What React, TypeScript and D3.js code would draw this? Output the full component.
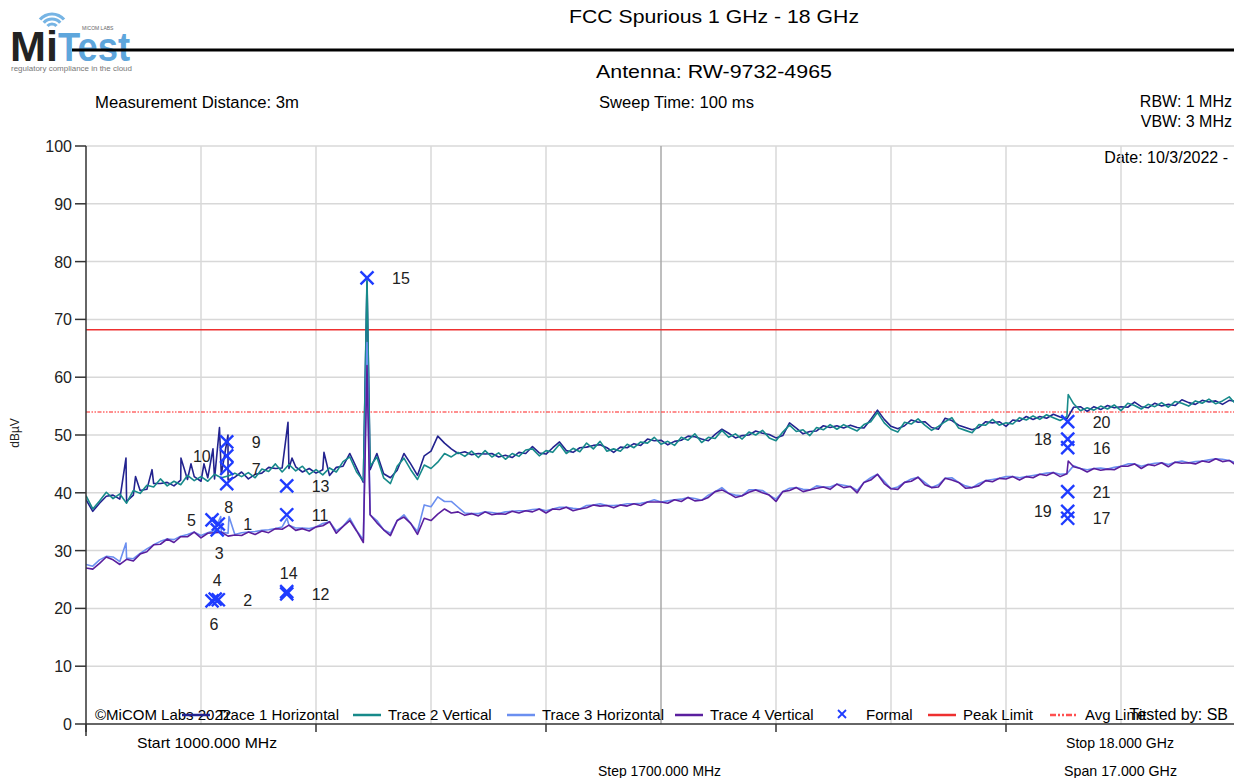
import React from "react";
import * as d3 from "d3";

// ---------- Sweep settings ----------
const START_MHZ = 1000;
const STOP_MHZ = 18000;
const SAMPLE_STEP_MHZ = 100;
const Y_TICKS = [0, 10, 20, 30, 40, 50, 60, 70, 80, 90, 100];
const X_GRID_MHZ = [1000, 2700, 4400, 6100, 7800, 9500, 11200, 12900, 14600, 16300, 18000];
const X_TICK_MHZ = [1000, 4400, 7800, 11200, 14600, 18000];

const PEAK_LIMIT = 68.2;
const AVG_LIMIT = 54.0;

// ---------- Trace values (dBµV), one every 100 MHz from 1000 MHz ----------
const trace1 = [
  38.8, 36.8, 38.2, 39.4, 39.6, 38.9, 38.5, 39.6, 40.4, 40.6,
  41.6, 41.6, 41.8, 41.2, 42.2, 42.3, 42.8, 42.0, 42.6, 42.4,
  43.2, 42.2, 42.7, 43.6, 42.4, 43.2, 43.4, 44.4, 44.2, 44.3,
  44.2, 44.5, 43.6, 44.2, 43.4, 44.0, 43.0, 44.4, 44.6, 46.8,
  44.3, 41.8, 44.0, 46.8, 43.3, 42.6, 43.9, 46.8, 45.0, 43.0,
  46.4, 47.2, 49.8, 48.6, 47.6, 46.8, 47.1, 46.6, 46.8, 46.7,
  46.8, 46.2, 46.5, 46.1, 47.0, 46.8, 48.0, 46.9, 46.7, 47.8,
  48.8, 47.3, 47.0, 47.8, 47.9, 48.2, 48.3, 47.8, 47.0, 47.9,
  47.8, 48.5, 48.2, 49.3, 49.0, 49.1, 48.3, 48.9, 49.1, 49.8,
  49.7, 49.3, 49.0, 50.1, 51.0, 50.3, 49.5, 49.9, 50.0, 50.7,
  50.3, 50.1, 49.5, 49.9, 52.1, 51.2, 50.2, 50.6, 50.7, 51.6,
  51.3, 51.6, 51.2, 51.7, 51.3, 51.2, 52.7, 54.3, 52.7, 51.5,
  51.1, 51.6, 52.6, 52.2, 52.3, 51.3, 51.0, 52.9, 52.5, 51.7,
  51.3, 50.9, 51.3, 52.3, 52.1, 52.3, 51.5, 52.6, 52.4, 53.2,
  52.7, 53.2, 52.9, 53.6, 53.1, 52.8, 54.8, 54.9, 54.1, 54.9,
  54.4, 55.1, 54.7, 54.9, 54.8, 55.7, 54.9, 54.7, 55.5, 55.0,
  55.3, 55.1, 56.1, 55.6, 55.3, 56.0, 55.7, 55.9, 55.3, 56.0, 55.8,
];
const trace2 = [
  39.5, 37.2, 38.6, 40.1, 39.0, 39.8, 38.2, 40.4, 39.9, 41.3,
  41.0, 42.4, 41.2, 42.0, 41.4, 43.0, 42.1, 42.8, 42.0, 43.2,
  42.6, 42.9, 43.4, 42.8, 43.5, 42.6, 44.1, 43.7, 45.0, 43.6,
  44.9, 43.8, 44.6, 43.2, 44.0, 43.1, 44.3, 43.6, 45.4, 46.2,
  43.6, 42.1, 44.6, 46.2, 42.6, 41.6, 44.6, 46.0, 44.0, 42.3,
  44.8, 44.2, 45.3, 46.8, 46.2, 47.0, 46.3, 47.2, 46.1, 47.3,
  46.2, 46.9, 45.8, 46.8, 46.3, 47.4, 47.6, 46.4, 47.3, 47.0,
  48.4, 46.8, 47.7, 47.1, 48.6, 47.6, 48.9, 47.2, 47.6, 47.2,
  48.4, 47.8, 48.8, 48.6, 49.6, 48.4, 48.9, 48.2, 49.6, 49.1,
  50.2, 48.7, 49.6, 49.4, 50.8, 49.6, 50.2, 49.3, 50.5, 50.0,
  50.8, 49.5, 49.0, 50.5, 51.7, 50.6, 50.9, 49.9, 51.3, 50.9,
  51.8, 51.0, 51.8, 51.2, 50.7, 51.8, 52.3, 53.9, 52.1, 51.0,
  50.5, 52.2, 51.9, 52.8, 51.7, 50.8, 51.5, 52.3, 53.0, 51.2,
  50.8, 50.4, 51.8, 51.7, 52.7, 51.7, 52.1, 51.9, 53.0, 52.6,
  53.3, 52.7, 53.5, 53.0, 52.5, 53.2, 55.4, 54.2, 54.7, 54.3,
  55.0, 54.5, 55.2, 54.2, 55.5, 55.1, 54.5, 55.3, 54.9, 55.6,
  54.8, 55.8, 55.5, 55.0, 55.9, 55.5, 56.2, 55.4, 55.9, 56.6, 55.3,
];
const trace3 = [
  27.6, 27.3, 28.4, 29.0, 28.9, 28.1, 28.7, 28.6, 29.5, 30.3,
  31.0, 31.6, 32.0, 31.9, 32.5, 32.8, 33.2, 32.6, 33.1, 33.5,
  33.2, 33.0, 32.8, 33.1, 33.2, 33.3, 33.5, 33.6, 33.8, 34.1,
  34.4, 33.9, 33.9, 33.8, 34.1, 34.7, 35.0, 33.4, 34.2, 35.6,
  33.5, 31.9, 36.2, 35.2, 33.6, 33.0, 35.2, 36.2, 34.7, 33.3,
  37.9, 37.6, 39.3, 38.5, 38.5, 37.5, 36.5, 36.4, 36.4, 36.7,
  36.6, 36.4, 36.7, 36.8, 36.9, 36.9, 37.1, 37.2, 36.9, 37.2,
  37.5, 37.5, 37.3, 37.2, 37.8, 37.9, 38.1, 37.8, 37.8, 37.9,
  38.1, 38.1, 38.2, 38.4, 38.8, 38.4, 38.6, 38.8, 38.9, 39.2,
  39.0, 38.7, 39.6, 40.2, 40.9, 39.9, 39.6, 39.5, 40.5, 40.5,
  40.4, 39.6, 38.9, 40.2, 40.8, 40.9, 40.6, 40.5, 41.2, 41.0,
  41.0, 41.5, 41.3, 41.1, 40.4, 41.8, 42.6, 43.2, 42.0, 40.7,
  41.0, 41.8, 42.4, 42.7, 41.8, 40.9, 41.4, 42.5, 42.6, 41.8,
  41.2, 40.9, 41.6, 42.1, 42.3, 42.5, 42.8, 42.8, 42.6, 42.8,
  43.0, 43.2, 43.4, 43.5, 43.2, 43.3, 44.7, 44.2, 44.0, 44.2,
  44.3, 44.1, 44.4, 44.6, 45.0, 45.0, 44.6, 44.9, 45.1, 45.2,
  44.9, 45.3, 45.5, 45.2, 45.4, 45.5, 45.7, 45.9, 45.8, 45.6, 45.2,
];
const trace4 = [
  27.0, 26.8, 27.8, 28.9, 28.4, 27.6, 28.5, 28.2, 29.4, 29.8,
  31.0, 31.1, 32.0, 31.4, 32.4, 32.4, 33.2, 32.2, 33.0, 33.1,
  33.2, 32.5, 32.7, 32.6, 33.2, 32.8, 33.4, 33.1, 33.8, 33.7,
  34.4, 33.5, 33.8, 33.4, 34.1, 34.3, 35.0, 33.0, 34.2, 35.2,
  33.4, 31.4, 36.2, 34.8, 33.6, 32.6, 35.2, 35.8, 34.7, 32.8,
  35.6, 35.2, 36.3, 37.2, 36.5, 36.7, 36.1, 36.4, 36.0, 36.7,
  36.2, 36.4, 36.3, 36.8, 36.5, 36.9, 36.7, 37.2, 36.5, 37.2,
  37.1, 37.5, 36.9, 37.2, 37.4, 37.9, 37.7, 37.8, 37.4, 37.9,
  37.7, 38.1, 37.8, 38.4, 38.4, 38.4, 38.2, 38.8, 38.5, 39.2,
  38.6, 38.7, 39.2, 40.2, 40.5, 39.9, 39.2, 39.5, 40.1, 40.5,
  40.0, 39.6, 38.5, 40.2, 40.4, 40.9, 40.2, 40.5, 40.8, 41.0,
  40.6, 41.5, 40.9, 41.1, 40.0, 41.8, 42.2, 43.2, 41.6, 40.7,
  40.6, 41.8, 42.0, 42.7, 41.4, 40.9, 41.0, 42.5, 42.2, 41.8,
  40.8, 40.9, 41.2, 42.1, 41.9, 42.5, 42.4, 42.8, 42.2, 42.8,
  42.6, 43.2, 43.0, 43.5, 42.8, 43.3, 44.5, 44.2, 43.6, 44.2,
  43.9, 44.1, 44.0, 44.6, 44.6, 45.0, 44.2, 44.9, 44.7, 45.2,
  44.5, 45.3, 45.1, 45.2, 45.0, 45.5, 45.3, 45.9, 45.4, 45.6, 44.8,
];

// Narrow spikes between samples: [MHz, dBµV]
const trace1Spikes: [number, number][] = [
  [1591, 46.0], [1732, 42.8], [1976, 44.0], [2404, 46.0], [2552, 45.0],
  [2744, 45.0], [2877, 47.6], [2973, 51.3], [3099, 50.0], [3986, 52.2],
  [4045, 46.0], [4518, 47.0], [5154, 76.5],
];
const trace2Spikes: [number, number][] = [[5154, 77.3], [15520, 57.0]];
const trace3Spikes: [number, number][] = [
  [1591, 31.3], [2991, 35.9], [3114, 35.9], [3971, 35.6], [5154, 66.0],
];
const trace4Spikes: [number, number][] = [[5154, 62.0], [15520, 45.5]];

// ---------- Formal markers ----------
const markerIds = [1, 2, 3, 4, 5, 6, 7, 8, 9, 10, 11, 12, 13, 14, 15, 16, 17, 18, 19, 20, 21];
const markerMHz = [
  2956, 2956, 2940, 2910, 2863, 2863, 3080, 3080, 3080, 3080,
  3967, 3967, 3967, 3967, 5154, 15512, 15512, 15512, 15512, 15512, 15512,
];
const markerDb = [
  34.6, 21.5, 33.6, 21.6, 35.3, 21.3, 44.2, 41.6, 48.8, 46.4,
  36.2, 22.5, 41.2, 22.9, 77.2, 47.8, 35.6, 49.3, 36.8, 52.3, 40.2,
];
const markerLabelSide = [
  "r", "r", "b", "a", "l", "b", "r", "b", "r", "l",
  "r", "r", "r", "a", "r", "r", "r", "l", "l", "r", "r",
];

const legendItems = [
  { label: "Trace 1 Horizontal", kind: "line" },
  { label: "Trace 2 Vertical", kind: "line" },
  { label: "Trace 3 Horizontal", kind: "line" },
  { label: "Trace 4 Vertical", kind: "line" },
  { label: "Formal", kind: "x" },
  { label: "Peak Limit", kind: "line" },
  { label: "Avg Limit", kind: "dash" },
];

// ---------- Styles ----------
const W = 1234;
const H = 778;
const LEFT = 86;
const RIGHT = 1236;
const TOP = 146;
const BOTTOM = 724;
const FONT = "'Liberation Sans', Arial, sans-serif";
const C1 = "#23238f";
const C2 = "#178a8a";
const C3 = "#6b8ff0";
const C4 = "#5a1f9e";
const CM = "#1f3cff";
const CPEAK = "#ee3030";
const CAVG = "#ff5050";
const legendX = [182, 353, 507, 675, 836, 928, 1050];

function buildPoints(values: number[], spikes: [number, number][]) {
  const pts: [number, number][] = values.map((v, i) => [START_MHZ + i * SAMPLE_STEP_MHZ, v]);
  spikes.forEach((s) => pts.push(s));
  pts.sort((a, b) => a[0] - b[0]);
  return pts;
}

export default function App() {
  const x = d3.scaleLinear().domain([START_MHZ, STOP_MHZ]).range([LEFT, RIGHT]);
  const y = d3.scaleLinear().domain([0, 100]).range([BOTTOM, TOP]);
  const line = d3
    .line<[number, number]>()
    .x((d) => x(d[0]))
    .y((d) => y(d[1]));

  const traces = [
    { pts: buildPoints(trace1, trace1Spikes), color: C1 },
    { pts: buildPoints(trace2, trace2Spikes), color: C2 },
    { pts: buildPoints(trace3, trace3Spikes), color: C3 },
    { pts: buildPoints(trace4, trace4Spikes), color: C4 },
  ];

  const mk = (cx: number, cy: number, s: number, key: string, sw = 2.4) => (
    <g key={key} stroke={CM} strokeWidth={sw}>
      <line x1={cx - s} y1={cy - s} x2={cx + s} y2={cy + s} />
      <line x1={cx - s} y1={cy + s} x2={cx + s} y2={cy - s} />
    </g>
  );

  const wifi = [6, 11, 16];
  const arc = d3.arc();

  return (
    <svg
      width={W}
      height={H}
      style={{ position: "absolute", left: 0, top: 0, background: "#fff" }}
      fontFamily={FONT}
    >
      <defs>
        <clipPath id="plotClip">
          <rect x={LEFT} y={TOP - 2} width={W - LEFT} height={BOTTOM - TOP + 2} />
        </clipPath>
      </defs>

      {/* Logo */}
      <g>
        {wifi.map((r, i) => (
          <path
            key={i}
            d={arc({ innerRadius: r - 1.6, outerRadius: r + 1.6, startAngle: -0.85, endAngle: 0.85 }) || ""}
            transform="translate(52,30)"
            fill="#76b4e4"
          />
        ))}
        <text x={10} y={61} fontSize={42} fontWeight="bold" fill="#232323" textLength={48} lengthAdjust="spacingAndGlyphs">
          Mi
        </text>
        <text x={58} y={61} fontSize={40} fontWeight="bold" fill="#5ea6dc" textLength={72} lengthAdjust="spacingAndGlyphs">
          Test
        </text>
        <text x={82} y={30} fontSize={5} fill="#666">MICOM LABS</text>
        <text x={11} y={71} fontSize={7} fill="#777" textLength={121} lengthAdjust="spacingAndGlyphs">
          regulatory compliance in the cloud
        </text>
      </g>
      <line x1={72} x2={W} y1={50} y2={50} stroke="#000" strokeWidth={3} />

      {/* Header texts */}
      <text x={714} y={23} fontSize={19} textAnchor="middle" fill="#000" textLength={290} lengthAdjust="spacingAndGlyphs">
        FCC Spurious 1 GHz - 18 GHz
      </text>
      <text x={714} y={78} fontSize={19} textAnchor="middle" fill="#000" textLength={236} lengthAdjust="spacingAndGlyphs">
        Antenna: RW-9732-4965
      </text>
      <text x={95} y={108} fontSize={16} fill="#000" textLength={204} lengthAdjust="spacingAndGlyphs">
        Measurement Distance: 3m
      </text>
      <text x={599} y={108} fontSize={16} fill="#000" textLength={155} lengthAdjust="spacingAndGlyphs">
        Sweep Time: 100 ms
      </text>
      <text x={1232} y={107} fontSize={16} textAnchor="end" fill="#000">
        RBW: 1 MHz
      </text>
      <text x={1232} y={127} fontSize={16} textAnchor="end" fill="#000">
        VBW: 3 MHz
      </text>
      <text x={1228} y={163} fontSize={16} textAnchor="end" fill="#000">
        Date: 10/3/2022 -
      </text>

      {/* Grid */}
      {Y_TICKS.filter((t) => t > 0).map((t) => (
        <line key={"gy" + t} x1={LEFT} x2={W} y1={y(t)} y2={y(t)} stroke="#d8d8d8" strokeWidth={1.5} />
      ))}
      {X_GRID_MHZ.filter((f) => f > START_MHZ).map((f) => (
        <line
          key={"gx" + f}
          x1={x(f)}
          x2={x(f)}
          y1={TOP}
          y2={BOTTOM}
          stroke={f === 9500 ? "#a8a8a8" : "#d8d8d8"}
          strokeWidth={1.5}
        />
      ))}

      {/* Limits */}
      <line x1={LEFT} x2={W} y1={y(PEAK_LIMIT)} y2={y(PEAK_LIMIT)} stroke={CPEAK} strokeWidth={1.5} />
      <line
        x1={LEFT}
        x2={W}
        y1={y(AVG_LIMIT)}
        y2={y(AVG_LIMIT)}
        stroke={CAVG}
        strokeWidth={1.5}
        strokeDasharray="4 1.5 1.5 1.5 1.5 1.5"
        opacity={0.85}
      />

      {/* Traces */}
      <g clipPath="url(#plotClip)" fill="none" strokeWidth={1.6} strokeLinejoin="round">
        {traces.map((t, i) => (
          <path key={i} d={line(t.pts) || ""} stroke={t.color} />
        ))}
      </g>

      {/* Axes */}
      <line x1={LEFT} x2={LEFT} y1={TOP} y2={BOTTOM + 12} stroke="#333" strokeWidth={1.5} />
      <line x1={LEFT} x2={W} y1={BOTTOM} y2={BOTTOM} stroke="#333" strokeWidth={1.5} />
      {Y_TICKS.map((t) => (
        <g key={"yt" + t}>
          <line x1={LEFT - 11} x2={LEFT} y1={y(t)} y2={y(t)} stroke="#333" strokeWidth={1.5} />
          <text x={LEFT - 14} y={y(t) + 6} fontSize={16} textAnchor="end" fill="#222">
            {t}
          </text>
        </g>
      ))}
      {X_TICK_MHZ.map((f) => (
        <line key={"xt" + f} x1={x(f)} x2={x(f)} y1={BOTTOM} y2={BOTTOM + 8} stroke="#333" strokeWidth={1.5} />
      ))}
      <text
        transform={`translate(19,${(TOP + BOTTOM) / 2 - 2}) rotate(-90)`}
        fontSize={12}
        textAnchor="middle"
        fill="#222"
      >
        dBµV
      </text>

      <text x={137} y={748} fontSize={15} fill="#000" textLength={140} lengthAdjust="spacingAndGlyphs">
        Start 1000.000 MHz
      </text>
      <text x={598} y={776} fontSize={15} fill="#000" textLength={123} lengthAdjust="spacingAndGlyphs">
        Step 1700.000 MHz
      </text>
      <text x={1066} y={748} fontSize={15} fill="#000" textLength={108} lengthAdjust="spacingAndGlyphs">
        Stop 18.000 GHz
      </text>
      <text x={1064} y={776} fontSize={15} fill="#000" textLength={113} lengthAdjust="spacingAndGlyphs">
        Span 17.000 GHz
      </text>

      {/* Markers */}
      {markerIds.map((id, i) => {
        const cx = x(markerMHz[i]);
        const cy = y(markerDb[i]);
        const side = markerLabelSide[i];
        let tx = cx + 25;
        let ty = cy + 6;
        let anchor = "start";
        if (side === "l") {
          tx = cx - 16;
          anchor = "end";
        } else if (side === "a") {
          tx = cx + 2;
          ty = cy - 13;
          anchor = "middle";
        } else if (side === "b") {
          tx = cx + 2;
          ty = cy + 29;
          anchor = "middle";
        }
        return (
          <g key={"m" + id}>
            {mk(cx, cy, 6.5, "mx" + id)}
            <text x={tx} y={ty} fontSize={16} textAnchor={anchor} fill="#222">
              {id}
            </text>
          </g>
        );
      })}

      {/* Legend */}
      <text x={95} y={720} fontSize={15} fill="#000">
        ©MiCOM Labs 2022
      </text>
      {legendItems.map((it, i) => {
        const lx = legendX[i];
        const colors = [C1, C2, C3, C4, CM, CPEAK, CAVG];
        return (
          <g key={"lg" + i}>
            {it.kind === "line" && (
              <line x1={lx} x2={lx + 28} y1={715} y2={715} stroke={colors[i]} strokeWidth={2.5} />
            )}
            {it.kind === "dash" && (
              <line
                x1={lx}
                x2={lx + 28}
                y1={715}
                y2={715}
                stroke={colors[i]}
                strokeWidth={2.5}
                strokeDasharray="6 2 2 2 2 2"
              />
            )}
            {it.kind === "x" && mk(lx + 6, 714, 4, "lgx", 1.8)}
            <text x={it.kind === "x" ? lx + 30 : lx + 35} y={720} fontSize={15} fill="#000">
              {it.label}
            </text>
          </g>
        );
      })}
      <text x={1228} y={720} fontSize={16} textAnchor="end" fill="#000">
        Tested by: SB
      </text>
    </svg>
  );
}
